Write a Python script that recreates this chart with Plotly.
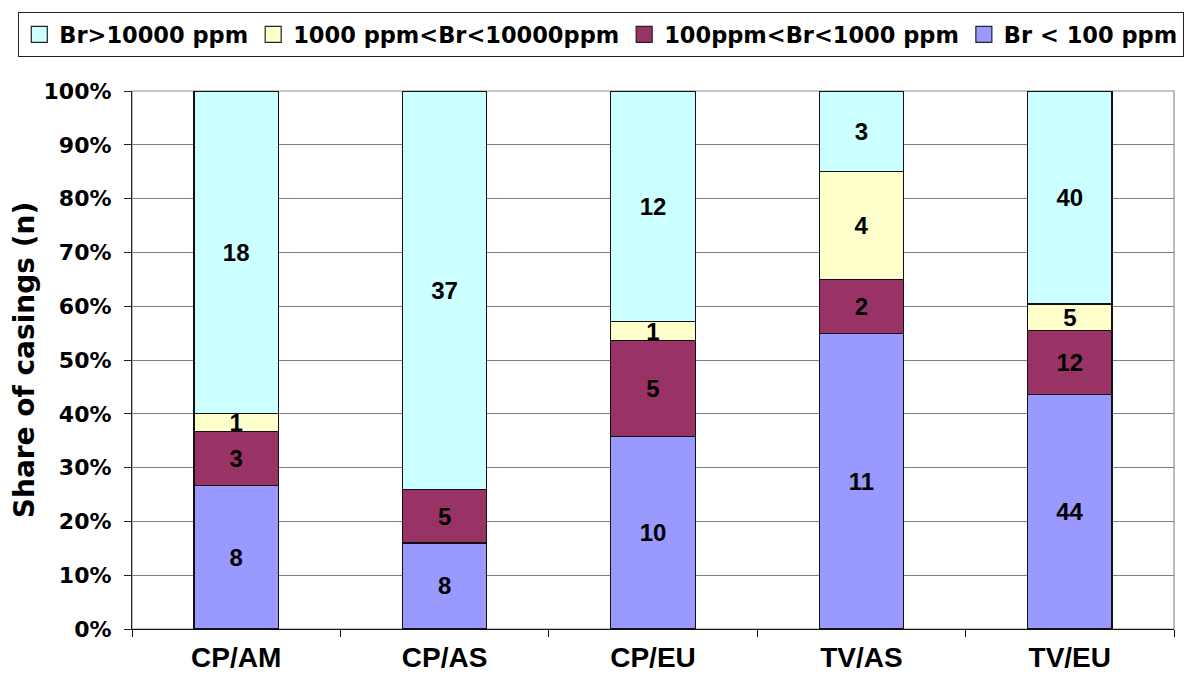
import plotly.graph_objects as go

categories = ["CP/AM", "CP/AS", "CP/EU", "TV/AS", "TV/EU"]
br_lt_100 = [8, 8, 10, 11, 44]
br_100_1000 = [3, 5, 5, 2, 12]
br_1000_10000 = [1, 0, 1, 4, 5]
br_gt_10000 = [18, 37, 12, 3, 40]

series_names = ["Br < 100 ppm", "100ppm<Br<1000 ppm", "1000 ppm<Br<10000ppm", "Br>10000 ppm"]
series_values = [br_lt_100, br_100_1000, br_1000_10000, br_gt_10000]
series_colors = ["#9999FF", "#993366", "#FFFFCC", "#CCFFFF"]

DJ = "DejaVu Sans"
AR = "Liberation Sans, Arial"

fig = go.Figure()
for name, vals, col in zip(series_names, series_values, series_colors):
    fig.add_trace(go.Bar(
        x=categories, y=vals, name=name, legendgroup=name, showlegend=False,
        marker=dict(color=col, line=dict(color="#111111", width=1.2)),
        text=[str(v) if v else "" for v in vals],
        textposition="inside", insidetextanchor="middle",
        textangle=0, constraintext="none",
        textfont=dict(family=AR, size=24, color="black", weight="bold"),
        hoverinfo="skip",
    ))

# legend-only entries with square swatches
for name, col in zip(series_names, series_colors):
    fig.add_trace(go.Scatter(
        x=[None], y=[None], mode="markers", name=name, legendgroup=name,
        marker=dict(symbol="square", size=27, color=col, line=dict(color="#222222", width=1.2)),
        showlegend=True, hoverinfo="skip",
    ))

# page body has an 8px offset; figure is sized so the plot lands where the reference has it
fig.update_layout(
    width=1188, height=667,
    barmode="stack", barnorm="percent", bargap=0.595,
    plot_bgcolor="white", paper_bgcolor="white",
    margin=dict(l=124, r=22, t=83, b=46, autoexpand=False),
    showlegend=True,
    legend=dict(
        orientation="h", traceorder="reversed", itemsizing="trace",
        x=-0.1094, y=1.1468, xanchor="left", yanchor="top",
        bordercolor="#222222", borderwidth=1.3,
        font=dict(family=DJ, size=22.5, color="black", weight="bold"),
        itemclick=False, itemdoubleclick=False,
    ),
    shapes=[dict(type="rect", xref="paper", yref="paper", x0=0, x1=1, y0=0, y1=1,
                 line=dict(color="#8c8c8c", width=1.2), layer="below")],
)

fig.update_yaxes(
    range=[0, 100], dtick=10, ticksuffix="%", automargin=False,
    showgrid=True, gridcolor="#808080", gridwidth=1,
    showline=True, linecolor="#222222", linewidth=1.2,
    ticks="outside", ticklen=7, tickcolor="#222222", ticklabelstandoff=8,
    tickfont=dict(family=DJ, size=22, color="black", weight="bold"),
    title=dict(text="Share of casings (n)", standoff=0,
               font=dict(family=DJ, size=28, color="black", weight="bold")),
    zeroline=False, fixedrange=True,
)
fig.update_xaxes(
    type="category", range=[-0.5, 4.5], automargin=False,
    showline=True, linecolor="#111111", linewidth=1.3,
    ticks="outside", ticklen=7, tickcolor="#111111", tickson="boundaries",
    ticklabelstandoff=3,
    tickfont=dict(family=AR, size=28, color="black", weight="bold"),
    showgrid=False, fixedrange=True,
)

fig.write_html("out.html")
